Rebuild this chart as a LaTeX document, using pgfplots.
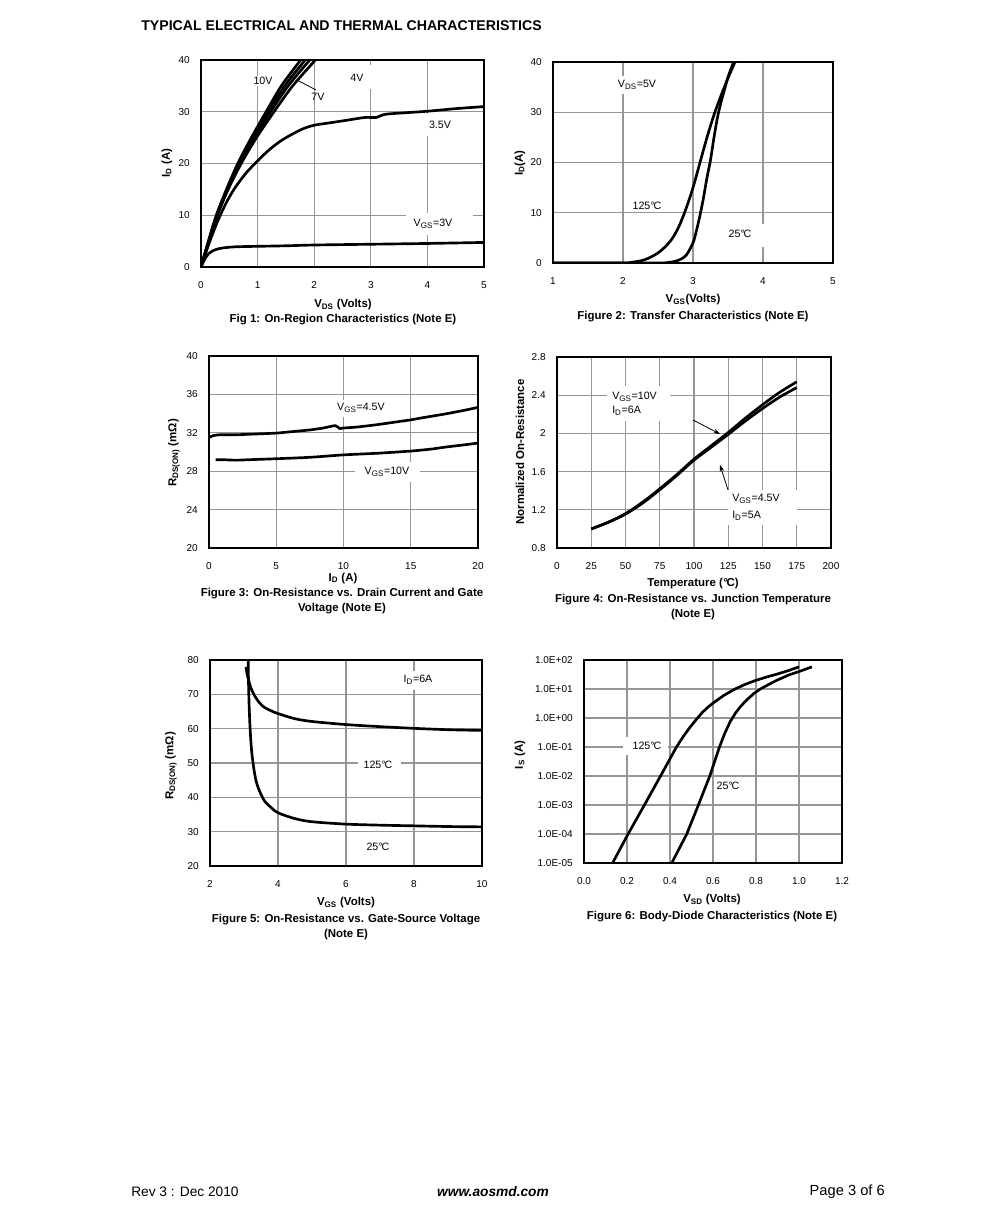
\documentclass[border=0pt]{standalone}
\usepackage{fontspec}
\setmainfont{Liberation Sans}
\usepackage{pgfplots}
\pgfplotsset{compat=1.18}
\usetikzlibrary{arrows.meta}
\definecolor{gridc}{RGB}{150,150,150}
\newcommand\fs[1]{\fontsize{#1}{#1}\selectfont}
\newcommand\dc{\kern0.03em°\kern-0.12em C}
\pgfplotsset{ds/.style={anchor=south west, scale only axis,
  grid=major, major grid style={draw=gridc,line width=1pt},
  axis line style={line width=0.9pt},
  major tick length=0pt, minor tick length=0pt,
  tick label style={font=\fs{7.5}},
  /pgf/number format/assume math mode=true,
  xticklabel style={yshift=-7.5pt}, yticklabel style={xshift=-5pt},
  every axis plot/.append style={black,line width=2pt,line join=round,no marks},
  enlargelimits=false}}
\begin{document}
\begin{tikzpicture}
\fill[white] (0,0) rectangle (743.25pt,-921.75pt);
% Fig 1
\begin{axis}[ds, at={(150.75pt,-200.25pt)}, width=212.25pt, height=155.25pt,
  xmin=0,xmax=5,ymin=0,ymax=40, xtick={0,1,2,3,4,5}, ytick={0,10,20,30,40}]
\addplot[smooth] coordinates {(0,0)(0.13,5)(0.27,10)(0.45,15)(0.65,20)(0.89,25)(1.15,30)(1.42,35)(1.76,40)(1.85,41.2)};
\addplot[smooth] coordinates {(0,0)(0.135,5)(0.28,10)(0.46,15)(0.67,20)(0.91,25)(1.19,30)(1.48,35)(1.84,40)(1.92,41.2)};
\addplot[smooth] coordinates {(0,0)(0.14,5)(0.285,10)(0.47,15)(0.69,20)(0.94,25)(1.23,30)(1.54,35)(1.92,40)(2.0,41.2)};
\addplot[smooth] coordinates {(0,0)(0.145,5)(0.29,10)(0.48,15)(0.71,20)(0.98,25)(1.29,30)(1.62,35)(2.02,40)(2.1,41.2)};
\addplot[smooth] coordinates {(0,0)(0.15,4.8)(0.3,9)(0.45,12.5)(0.6,15.3)(0.8,18.2)(1.0,20.5)(1.2,22.6)(1.4,24.3)(1.6,25.6)(1.8,26.7)(2,27.4)(2.3,27.9)(2.6,28.4)(2.9,28.9)(3.1,28.9)(3.25,29.5)(3.6,29.8)(4,30.1)(4.5,30.6)(5,31.0)};
\addplot[smooth] coordinates {(0,0)(0.05,1.2)(0.1,2.1)(0.15,2.7)(0.2,3.1)(0.3,3.5)(0.4,3.7)(0.6,3.9)(1,4.0)(1.5,4.1)(2,4.25)(3,4.4)(4,4.55)(5,4.75)};
\end{axis}
% Fig 2
\begin{axis}[ds, at={(414.75pt,-197.25pt)}, width=210pt, height=150.75pt,
  xmin=1,xmax=5,ymin=0,ymax=40, xtick={1,2,3,4,5}, ytick={0,10,20,30,40}]
\addplot[smooth] coordinates {(1,0)(2.5,0)(2.6,0.05)(2.7,0.2)(2.8,0.6)(2.9,1.5)(3.0,4)(3.05,6.5)(3.1,9.5)(3.15,13)(3.2,17)(3.25,20.5)(3.3,25)(3.35,29)(3.4,32)(3.45,34.5)(3.5,37)(3.58,40)(3.6,40.8)};
\addplot[smooth] coordinates {(1,0)(2.0,0)(2.1,0.1)(2.2,0.3)(2.3,0.6)(2.4,1.2)(2.5,2.0)(2.6,3.2)(2.7,4.8)(2.8,7.3)(2.9,10.8)(3.0,15)(3.1,20)(3.2,25)(3.3,29.5)(3.4,33.3)(3.5,36.8)(3.6,40)(3.62,40.8)};
\end{axis}
% Fig 3
\begin{axis}[ds, at={(156.75pt,-411pt)}, width=201.75pt, height=144pt,
  xmin=0,xmax=20,ymin=20,ymax=40, xtick={0,5,10,15,20}, ytick={20,24,28,32,36,40}]
\addplot[smooth,tension=0.4] coordinates {(0,31.5)(0.3,31.7)(0.8,31.8)(2,31.8)(3,31.85)(5,31.97)(6,32.1)(7.5,32.3)(8.5,32.5)(9.4,32.75)(9.7,32.45)(10,32.5)(11,32.6)(12.5,32.85)(14,33.15)(15,33.35)(16,33.6)(17.5,33.95)(19,34.35)(20,34.65)};
\addplot[smooth] coordinates {(0.5,29.2)(1,29.2)(2,29.15)(3,29.2)(5,29.3)(7.5,29.45)(10,29.7)(12.5,29.87)(15,30.1)(16.5,30.3)(17.5,30.5)(19,30.75)(20,30.93)};
\end{axis}
% Fig 4
\begin{axis}[ds, at={(417.75pt,-411pt)}, width=205.5pt, height=143.25pt,
  xmin=0,xmax=200,ymin=0.8,ymax=2.8, xtick={0,25,...,200},
  ytick={0.8,1.2,1.6,2,2.4,2.8}, yticklabels={0.8,1.2,1.6,2,2.4,2.8}]
\addplot[smooth] coordinates {(25,1.0)(37.5,1.07)(50,1.16)(62.5,1.28)(75,1.42)(87.5,1.57)(100,1.73)(112.5,1.87)(125,2.01)(137.5,2.16)(150,2.3)(162.5,2.43)(175,2.54)};
\addplot[smooth] coordinates {(25,1.0)(37.5,1.07)(50,1.155)(62.5,1.27)(75,1.41)(87.5,1.56)(100,1.72)(112.5,1.855)(125,1.99)(137.5,2.13)(150,2.26)(162.5,2.38)(175,2.48)};
\end{axis}
% Fig 5
\begin{axis}[ds, at={(157.5pt,-649.5pt)}, width=204pt, height=154.5pt,
  xmin=2,xmax=10,ymin=20,ymax=80, xtick={2,4,6,8,10}, ytick={20,30,...,80}]
\addplot[smooth,tension=0.5] coordinates {(3.12,84)(3.13,75)(3.15,67)(3.18,60)(3.22,54)(3.28,49)(3.35,45)(3.45,42)(3.6,39)(3.8,37)(4,35.5)(4.5,33.8)(5,32.9)(6,32.2)(7,31.9)(8,31.7)(9,31.5)(10,31.4)};
\addplot[smooth,tension=0.5] coordinates {(3.06,78)(3.1,75.5)(3.2,72)(3.3,69.8)(3.45,67.6)(3.6,66.2)(3.8,65.2)(4,64.4)(4.5,62.9)(5,62.1)(6,61.2)(7,60.6)(8,60.1)(9,59.7)(10,59.5)};
\end{axis}
% Fig 6
\begin{axis}[ds, at={(438pt,-647.25pt)}, width=193.5pt, height=152.25pt,
  ymode=log, xmin=0,xmax=1.2,ymin=1e-5,ymax=1e2,
  xtick={0,0.2,0.4,0.6,0.8,1.0,1.2}, xticklabels={0.0,0.2,0.4,0.6,0.8,1.0,1.2},
  ytick={1e-5,1e-4,1e-3,1e-2,1e-1,1,1e1,1e2},
  yticklabels={1.0E-05,1.0E-04,1.0E-03,1.0E-02,1.0E-01,1.0E+00,1.0E+01,1.0E+02}]
\addplot[black,sharp plot] coordinates {(0.133,1e-5)(0.205,1e-4)(0.281,1e-3)(0.356,1e-2)(0.43,1e-1)(0.46,0.22)(0.49,0.45)(0.52,0.85)(0.55,1.55)(0.58,2.5)(0.61,3.7)(0.65,6.0)(0.7,9.8)(0.75,14.5)(0.8,20)(0.85,26)(0.9,33)(0.95,43)(1.0,58)};
\addplot[black,sharp plot] coordinates {(0.408,1e-5)(0.478,1e-4)(0.532,1e-3)(0.585,1e-2)(0.63,1e-1)(0.655,0.3)(0.68,0.75)(0.705,1.5)(0.73,2.6)(0.76,4.4)(0.79,7)(0.82,10)(0.86,14.5)(0.9,20.5)(0.95,30)(1.0,40)(1.06,58)};
\end{axis}
\begin{scope}[x=0.75pt,y=-0.75pt, every node/.style={inner sep=0pt,font=\fs{8}}]
% header / footer
\node[anchor=west,font=\fs{10.6}\bfseries] at (141,26) {TYPICAL ELECTRICAL AND THERMAL CHARACTERISTICS};
\node[anchor=west,font=\fs{10.3}] at (131,1192) {Rev 3 : Dec 2010};
\node[font=\fs{10.3}\bfseries\itshape] at (493,1192) {www.aosmd.com};
\node[anchor=east,font=\fs{11}] at (885,1192) {Page 3 of 6};
% Fig1 labels
\node[fill=white,inner sep=1pt] at (263,81) {10V};
\fill[white] (345,65) rectangle (376,89); \node at (357,78) {4V};
\node at (318,97) {7V}; \draw[line width=0.6pt] (297,80) -- (316,90);
\fill[white] (423,114) rectangle (458,136); \node at (440,125) {3.5V};
\fill[white] (406,213) rectangle (473,235); \node at (433,224) {V\textsubscript{GS}=3V};
\node[font=\fs{8.6}\bfseries] at (343,305) {V\textsubscript{DS} (Volts)};
\node[font=\fs{8.6}\bfseries] at (343,320) {Fig 1: On-Region Characteristics (Note E)};
\node[rotate=90,font=\fs{8.6}\bfseries] at (167,163) {I\textsubscript{D} (A)};
% Fig2 labels
\fill[white] (612,76) rectangle (662,94); \node at (637,85) {V\textsubscript{DS}=5V};
\node at (647,206) {125\dc};
\fill[white] (716,224) rectangle (765,247); \node at (740,234) {25\dc};
\node[font=\fs{8.6}\bfseries] at (693,300) {V\textsubscript{GS}(Volts)};
\node[font=\fs{8.6}\bfseries] at (693,317) {Figure 2: Transfer Characteristics (Note E)};
\node[rotate=90,font=\fs{8.6}\bfseries] at (520,163) {I\textsubscript{D}(A)};
% Fig3 labels
\fill[white] (333,400) rectangle (390,417); \node at (361,408) {V\textsubscript{GS}=4.5V};
\fill[white] (355,462) rectangle (420,482); \node at (387,472) {V\textsubscript{GS}=10V};
\node[font=\fs{8.6}\bfseries] at (343,578.5) {I\textsubscript{D} (A)};
\node[font=\fs{8.6}\bfseries] at (342,594) {Figure 3: On-Resistance vs. Drain Current and Gate};
\node[font=\fs{8.6}\bfseries] at (342,609) {Voltage (Note E)};
\node[rotate=90,font=\fs{8.6}\bfseries] at (174,453) {R\textsubscript{DS(ON)} (mΩ)};
% Fig4 labels
\fill[white] (607,386) rectangle (670,421);
\node[anchor=west] at (612,397) {V\textsubscript{GS}=10V};
\node[anchor=west] at (612,411) {I\textsubscript{D}=6A};
\draw[line width=0.6pt,-{Stealth[length=5pt,width=3.5pt]}] (693,420) -- (720,434);
\fill[white] (728,490) rectangle (797,525);
\node[anchor=west] at (732,499) {V\textsubscript{GS}=4.5V};
\node[anchor=west] at (732,516) {I\textsubscript{D}=5A};
\draw[line width=0.6pt,-{Stealth[length=5pt,width=3.5pt]}] (728,490) -- (720,465);
\node[font=\fs{8.6}\bfseries] at (693,584) {Temperature (\dc)};
\node[font=\fs{8.6}\bfseries] at (693,600) {Figure 4: On-Resistance vs. Junction Temperature};
\node[font=\fs{8.6}\bfseries] at (693,615) {(Note E)};
\node[rotate=90,font=\fs{8.6}\bfseries] at (520,452) {Normalized On-Resistance};
% Fig5 labels
\fill[white] (398,671) rectangle (438,690); \node at (418,680) {I\textsubscript{D}=6A};
\fill[white] (358,755) rectangle (401,773); \node at (378,765) {125\dc};
\node at (378,847) {25\dc};
\node[font=\fs{8.6}\bfseries] at (346,903) {V\textsubscript{GS} (Volts)};
\node[font=\fs{8.6}\bfseries] at (346,920) {Figure 5: On-Resistance vs. Gate-Source Voltage};
\node[font=\fs{8.6}\bfseries] at (346,935) {(Note E)};
\node[rotate=90,font=\fs{8.6}\bfseries] at (171,766) {R\textsubscript{DS(ON)} (mΩ)};
% Fig6 labels
\fill[white] (623,737) rectangle (668,755); \node at (647,746) {125\dc};
\node at (728,786) {25\dc};
\node[font=\fs{8.6}\bfseries] at (712,900) {V\textsubscript{SD} (Volts)};
\node[font=\fs{8.6}\bfseries] at (712,917) {Figure 6: Body-Diode Characteristics (Note E)};
\node[rotate=90,font=\fs{8.6}\bfseries] at (520,755) {I\textsubscript{S} (A)};
\end{scope}
\end{tikzpicture}
\end{document}
